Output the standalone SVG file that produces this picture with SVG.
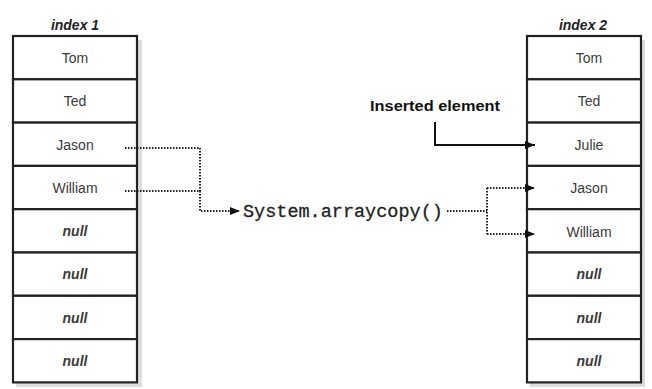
<svg xmlns="http://www.w3.org/2000/svg" width="652" height="389" viewBox="0 0 652 389">
<defs>
<marker id="ah" viewBox="0 0 10 8" refX="10" refY="4" markerWidth="10" markerHeight="8" markerUnits="userSpaceOnUse" orient="auto">
<path d="M0,0 L10,4 L0,8 z" fill="#111"/>
</marker>
</defs>
<style>
.cell{fill:#fff;stroke:#222;stroke-width:2.2}
.shadow{fill:#bbb;opacity:0.5}
.t{font-family:"Liberation Sans",Arial,sans-serif;font-size:14px;fill:#3a3a3a;text-anchor:middle}
.n{font-style:italic;font-weight:bold}
.title{font-family:"Liberation Sans",Arial,sans-serif;font-size:14px;font-weight:bold;font-style:italic;fill:#222;text-anchor:middle}
.dot{fill:none;stroke:#222;stroke-width:2;stroke-dasharray:1.5,1.5}
.solid{fill:none;stroke:#111;stroke-width:2}
.code{font-family:"Liberation Mono","DejaVu Sans Mono",monospace;font-size:18.5px;fill:#222;stroke:#222;stroke-width:0.3}
.lbl{font-family:"Liberation Sans",Arial,sans-serif;font-size:14px;font-weight:bold;fill:#111}
</style>
<rect width="652" height="389" fill="#fff"/>

<g id="array1">
<text class="title" x="75" y="30">index 1</text>
<rect class="shadow" x="16" y="40" width="126" height="347"/>
<g class="cell">
<rect x="13" y="36" width="124" height="43.3"/>
<rect x="13" y="79.3" width="124" height="43.3"/>
<rect x="13" y="122.6" width="124" height="43.3"/>
<rect x="13" y="165.9" width="124" height="43.3"/>
<rect x="13" y="209.2" width="124" height="43.3"/>
<rect x="13" y="252.5" width="124" height="43.3"/>
<rect x="13" y="295.8" width="124" height="43.3"/>
<rect x="13" y="339.1" width="124" height="43.3"/>
</g>
<text class="t" x="75" y="63">Tom</text>
<text class="t" x="75" y="106">Ted</text>
<text class="t" x="75" y="150">Jason</text>
<text class="t" x="75" y="193">William</text>
<text class="t n" x="75" y="236">null</text>
<text class="t n" x="75" y="279">null</text>
<text class="t n" x="75" y="323">null</text>
<text class="t n" x="75" y="366">null</text>
</g>

<g id="array2">
<text class="title" x="583" y="30">index 2</text>
<rect class="shadow" x="530" y="40" width="115" height="347"/>
<g class="cell">
<rect x="527" y="36" width="114" height="43.3"/>
<rect x="527" y="79.3" width="114" height="43.3"/>
<rect x="527" y="122.6" width="114" height="43.3"/>
<rect x="527" y="165.9" width="114" height="43.3"/>
<rect x="527" y="209.2" width="114" height="43.3"/>
<rect x="527" y="252.5" width="114" height="43.3"/>
<rect x="527" y="295.8" width="114" height="43.3"/>
<rect x="527" y="339.1" width="114" height="43.3"/>
</g>
<text class="t" x="589" y="63">Tom</text>
<text class="t" x="589" y="106">Ted</text>
<text class="t" x="589" y="150">Julie</text>
<text class="t" x="589" y="193">Jason</text>
<text class="t" x="589" y="237">William</text>
<text class="t n" x="589" y="279">null</text>
<text class="t n" x="589" y="323">null</text>
<text class="t n" x="589" y="366">null</text>
</g>

<g id="arraycopy">
<text class="code" x="243" y="217">System.arraycopy()</text>
</g>

<g id="inserted">
<text class="lbl" x="370" y="111" textLength="130" lengthAdjust="spacingAndGlyphs">Inserted element</text>
</g>

<g id="connectors">
<path class="dot" d="M125,148 H200 V191"/>
<path class="dot" d="M125,191 H200 V211 H240" marker-end="url(#ah)"/>
<path class="dot" d="M447,211 H487"/>
<path class="dot" d="M487,188 V234"/>
<path class="dot" d="M487,188 H535" marker-end="url(#ah)"/>
<path class="dot" d="M487,234 H535" marker-end="url(#ah)"/>
<path class="solid" d="M435,122 V145 H535" marker-end="url(#ah)"/>
</g>
</svg>
